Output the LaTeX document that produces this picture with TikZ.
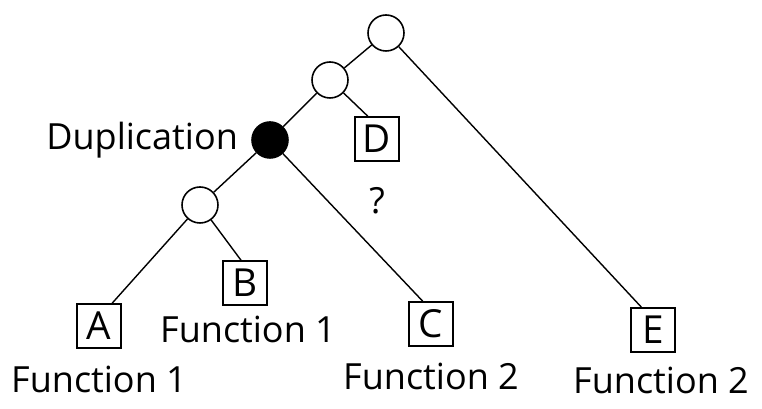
\documentclass[tikz,border=0pt]{standalone}
\usepackage{fontspec}
\setmainfont{Open Sans}
\usepackage{tikz}
\usetikzlibrary{positioning}
\tikzset{gene/.style={draw, line width=0.9pt, minimum size=0.88cm, inner sep=0pt, font=\fontsize{22}{24}\selectfont}}
\tikzset{fn label/.style={inner sep=0pt, font=\fontsize{20.5}{23}\selectfont}}

\begin{document}
\begin{tikzpicture}
    [anc/.style={draw, circle, line width=0.9pt, minimum size=0.72cm, inner sep=0pt},
      dup/.style={anc, fill=black},
      branch/.style={line width=0.8pt}]

    \useasboundingbox (0,0) rectangle (15.24,8.18);

    % inner nodes of the tree
    \node[anc] (R) at (7.72, 7.52) {};
    \node[anc] (N) at (6.60, 6.58) {};
    \node[dup] (X) at (5.40, 5.38) {};
    \node[anc] (L) at (4.00, 4.08) {};

    % leaves
    \node[gene] (D) at (7.54, 5.40) {D};
    \node[gene] (A) at (1.98, 1.66) {A};
    \node[gene] (B) at (4.90, 2.52) {B};
    \node[gene] (C) at (8.62, 1.70) {C};
    \node[gene] (E) at (13.06, 1.58) {E};

    % labels
    \node[left=0.26cm of X, fn label] (XL) {Duplication};
    \node[below=0.5cm of D, fn label] (DQ) {?};
    \node[below=0.34cm of A, fn label] (AF) {Function 1};
    \node[below=0.20cm of B, fn label, xshift=0.06cm] (BF) {Function 1};
    \node[below=0.32cm of C, fn label] (CF) {Function 2};
    \node[below=0.28cm of E, fn label, xshift=0.16cm] (EF) {Function 2};

    % branches
    \draw[branch] (R) -- (N);
    \draw[branch] (R) -- (E.117);
    \draw[branch] (N) -- (X);
    \draw[branch] (N) -- (D.112);
    \draw[branch] (X) -- (L);
    \draw[branch] (X) -- (C.110);
    \draw[branch] (L) -- (A.60);
    \draw[branch] (L) -- (B.100);
  \end{tikzpicture}
\end{document}
